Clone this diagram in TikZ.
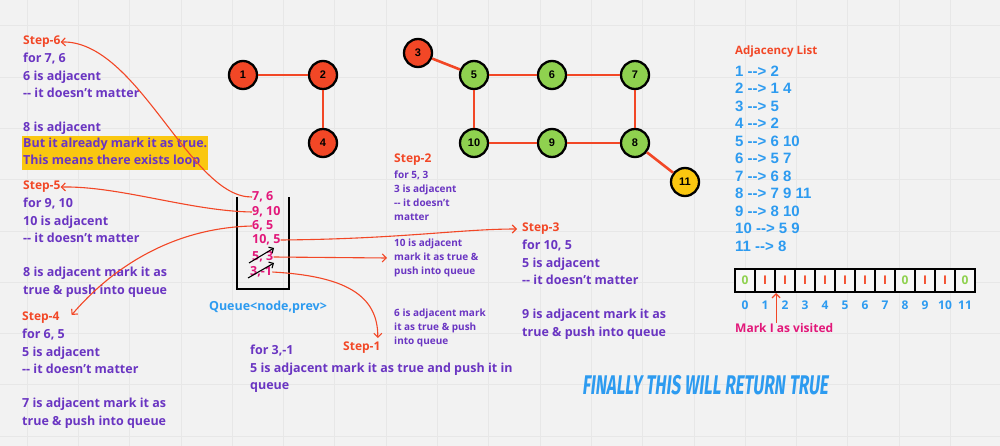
\documentclass[tikz,border=0pt]{standalone}
\usepackage{fontspec}
\usepackage{graphicx}
\setmainfont{Open Sans}
\newfontfamily\listfont{Liberation Sans}
\newfontfamily\bannerfont[FakeSlant=0.18]{Fira Sans}
\usetikzlibrary{arrows.meta}
\definecolor{bgcol}{HTML}{F2F2F2}
\definecolor{gridcol}{HTML}{E7E7E7}
\definecolor{stepred}{HTML}{F24726}
\definecolor{notepurple}{HTML}{6A35C2}
\definecolor{qpink}{HTML}{E2187A}
\definecolor{listblue}{HTML}{2D9BF0}
\definecolor{vgreen}{HTML}{8FD14F}
\definecolor{vyellow}{HTML}{FAC710}
\definecolor{cellgreen}{HTML}{8FD14F}
\definecolor{cellfill}{HTML}{F7F7F7}
\begin{document}
\begin{tikzpicture}[x=1pt,y=-1pt,
  vtx/.style={circle, draw=black, line width=2.3pt, minimum size=28pt, inner sep=0pt, font=\listfont\bfseries\fontsize{11}{11}\selectfont},
  graphedge/.style={draw=stepred, line width=2.6pt},
  steplbl/.style={anchor=west, inner sep=0pt, text=stepred, font=\bfseries\fontsize{12}{14}\selectfont},
  note/.style={anchor=north west, inner sep=0pt, align=left, text=notepurple, font=\bfseries\fontsize{12.5}{17.3}\selectfont},
  smallnote/.style={note, font=\bfseries\fontsize{10}{13.8}\selectfont},
  qitem/.style={anchor=west, inner sep=0pt, text=qpink, font=\bfseries\fontsize{12.5}{14}\selectfont},
  link/.style={draw=stepred, line width=1.1pt, -{Straight Barb[length=4pt,width=8pt]}},
  strike/.style={draw=black, line width=1.1pt, -{Straight Barb[length=3.5pt,width=7pt]}},
  cell/.style={draw=black, line width=2.2pt, fill=cellfill, minimum width=20pt, minimum height=23pt, inner sep=0pt, font=\bfseries\fontsize{12}{12}\selectfont},
  idx/.style={text=listblue, inner sep=0pt, font=\bfseries\fontsize{12}{12}\selectfont}]
\useasboundingbox (0,0) rectangle (1000,446);
\fill[bgcol] (0,0) rectangle (1000,446);
\foreach \gx in {0,...,19} \draw[gridcol, line width=0.7pt] ({27+51.3*\gx},0) -- ({27+51.3*\gx},446);
\foreach \gy in {0,...,8} \draw[gridcol, line width=0.7pt] (0,{25.7+51.3*\gy}) -- (1000,{25.7+51.3*\gy});

\node[vtx, fill=stepred] (1) at (243,75) {1};
\node[vtx, fill=stepred] (2) at (323,75) {2};
\node[vtx, fill=stepred] (4) at (323,143) {4};
\node[vtx, fill=stepred] (3) at (418,53) {3};
\node[vtx, fill=vgreen] (5) at (474,75) {5};
\node[vtx, fill=vgreen] (6) at (552,75) {6};
\node[vtx, fill=vgreen] (7) at (635,75) {7};
\node[vtx, fill=vgreen] (10) at (474,143) {10};
\node[vtx, fill=vgreen] (9) at (552,143) {9};
\node[vtx, fill=vgreen] (8) at (635,143) {8};
\node[vtx, fill=vyellow] (11) at (685,182) {11};
\path[graphedge] (1) -- (2);
\path[graphedge] (2) -- (4);
\path[graphedge] (3) -- (5);
\path[graphedge] (5) -- (6);
\path[graphedge] (6) -- (7);
\path[graphedge] (7) -- (8);
\path[graphedge] (8) -- (9);
\path[graphedge] (9) -- (10);
\path[graphedge] (10) -- (5);
\path[graphedge] (8) -- (11);

\node[steplbl] (s6) at (23,42) {Step-6};
\node[note] (s6a) at (23,53) {for 7, 6\\6 is adjacent\\-{}- it doesn't matter\\[17.3pt]8 is adjacent};
\node[note, fill=vyellow, inner xsep=1pt, inner ysep=2pt] (s6b) at (22,136) {But it already mark it as true.\\This means there exists loop};
\node[steplbl] (s5) at (23,187) {Step-5};
\node[note] (s5a) at (23,198) {for 9, 10\\10 is adjacent\\-{}- it doesn't matter\\[17.3pt]8 is adjacent mark it as\\true \& push into queue};
\node[steplbl] (s4) at (22,318) {Step-4};
\node[note] (s4a) at (22,329) {for 6, 5\\5 is adjacent\\-{}- it doesn't matter\\[17.3pt]7 is adjacent mark it as\\true \& push into queue};
\node[steplbl] (s3) at (522,229) {Step-3};
\node[note] (s3a) at (522,240) {for 10, 5\\5 is adjacent\\-{}- it doesn't matter\\[17.3pt]9 is adjacent mark it as\\true \& push into queue};
\node[steplbl] (s2) at (394,160) {Step-2};
\node[smallnote] (s2a) at (394,171) {for 5, 3\\3 is adjacent\\-{}- it doesn't\\matter};
\node[smallnote] (n10) at (394,239) {10 is adjacent\\mark it as true \&\\push into queue};
\node[smallnote] (n6) at (394,309) {6 is adjacent mark\\it as true \& push\\into queue};
\node[steplbl] (s1) at (343,348) {Step-1};
\node[note] (s1a) at (250,345) {for 3,-1\\5 is adjacent mark it as true and push it in\\queue};

\draw[black, line width=2.2pt] (237,197) -- (237,289) -- (289,289) -- (289,197);
\node[qitem] (q76) at (252,197) {7, 6};
\node[qitem] (q910) at (252,212) {9, 10};
\node[qitem] (q65) at (252,226) {6, 5};
\node[qitem] (q105) at (252,240) {10, 5};
\node[qitem] (q53) at (252,257) {5, 3};
\node[qitem] (q31) at (250,272) {3,-1};
\node[idx, font=\bfseries\fontsize{12.5}{12.5}\selectfont] (ql) at (268,307) {Queue<node,prev>};
\coordinate (x53a) at (249,263);
\coordinate (x53b) at (274,248);
\coordinate (x31a) at (248,278);
\coordinate (x31b) at (274,263);
\path[strike] (x53a) -- (x53b);
\path[strike] (x31a) -- (x31b);

\path[link] (q76.west) .. controls (190,198) and (138,40) .. (s6.east);
\path[link] (q910.west) .. controls (190,211) and (120,186) .. (s5.east);
\path[link] (q65.west) .. controls (170,228) and (110,270) .. ([xshift=12pt,yshift=3pt]s4.east);
\path[link] (q105.east) .. controls (400,239) and (460,229) .. ([xshift=-5pt]s3.west);
\path[link] (q53.east) -- ([xshift=-7pt]n10.west);
\path[link] (q31.east) .. controls (345,276) and (378,295) .. ([xshift=16pt,yshift=4pt]s1.north);

\node[steplbl, font=\bfseries\fontsize{11.5}{12}\selectfont] (adj) at (735,52) {Adjacency List};
\node[anchor=north west, inner sep=0pt, align=left, text=listblue, font=\listfont\bfseries\fontsize{15}{17.5}\selectfont] (adjlist) at (735,65.5) {1 -{}-> 2\\2 -{}-> 1 4\\3 -{}-> 5\\4 -{}-> 2\\5 -{}-> 6 10\\6 -{}-> 5 7\\7 -{}-> 6 8\\8 -{}-> 7 9 11\\9 -{}-> 8 10\\10 -{}-> 5 9\\11 -{}-> 8};

\foreach \i/\v/\c in {0/0/cellgreen,1/I/stepred,2/I/stepred,3/I/stepred,4/I/stepred,5/I/stepred,6/I/stepred,7/I/stepred,8/0/cellgreen,9/I/stepred,10/I/stepred,11/0/cellgreen}
  \node[cell, text=\c] (c\i) at ({745+20*\i},280.5) {\v};
\foreach \i in {0,...,11}
  \node[idx] (i\i) at ({745+20*\i},305) {\i};
\node[anchor=west, inner sep=0pt, text=qpink, font=\bfseries\fontsize{12}{12}\selectfont] (mark) at (735,328) {Mark I as visited};
\path[link] (mark.north -| c1.south east) -- (c1.south east);

\node[text=listblue, inner sep=0pt, font=\bannerfont\bfseries\fontsize{27}{27}\selectfont] (fin) at (705,385) {\scalebox{0.62}[1]{FINALLY THIS WILL RETURN TRUE}};
\end{tikzpicture}
\end{document}
